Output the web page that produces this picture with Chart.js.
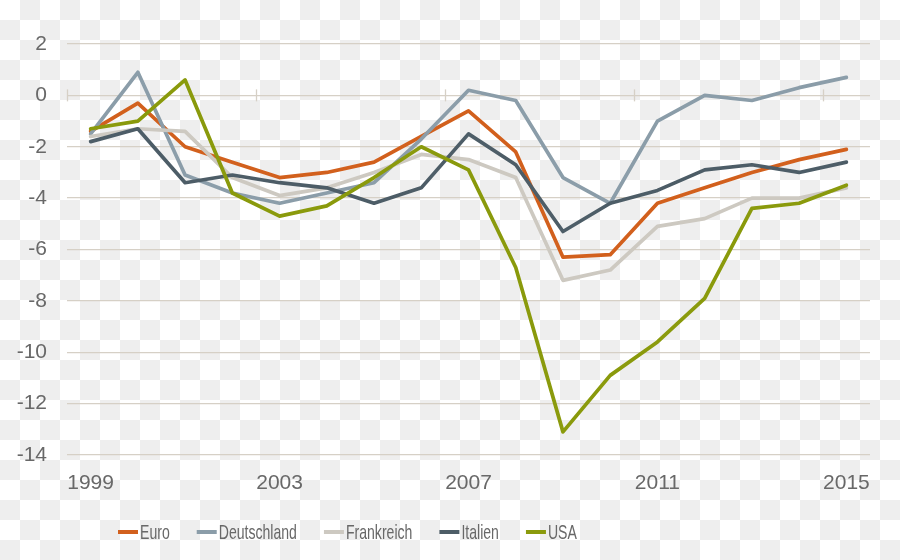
<!DOCTYPE html>
<html>
<head>
<meta charset="utf-8">
<script src="https://cdn.jsdelivr.net/npm/chart.js@4/dist/chart.umd.min.js"></script>
<style>
  html, body { margin: 0; padding: 0; }
  body {
    width: 900px; height: 560px; overflow: hidden;
    background: repeating-conic-gradient(#eeeeee 0 25%, #ffffff 0 50%) 0 0 / 40px 40px;
  }
  #wrap { position: absolute; left: 0; top: 0; width: 900px; height: 560px; }
</style>
</head>
<body>
<div id="wrap"><canvas id="c" width="900" height="560"></canvas></div>
<script>
const years = ['1999','2000','2001','2002','2003','2004','2005','2006','2007','2008','2009','2010','2011','2012','2013','2014','2015'];
const shownYears = ['1999','2003','2007','2011','2015'];
const yTicks = [2, 0, -2, -4, -6, -8, -10, -12, -14];

const euro        = [-1.4, -0.3, -2.0, -2.6, -3.2, -3.0, -2.6, -1.6, -0.6, -2.2, -6.3, -6.2, -4.2, -3.6, -3.0, -2.5, -2.1];
const deutschland = [-1.5,  0.9, -3.1, -3.8, -4.2, -3.8, -3.4, -1.7,  0.2, -0.2, -3.2, -4.2, -1.0,  0.0, -0.2,  0.3,  0.7];
const frankreich  = [-1.6, -1.3, -1.4, -3.2, -3.9, -3.6, -3.0, -2.3, -2.5, -3.2, -7.2, -6.8, -5.1, -4.8, -4.0, -4.0, -3.6];
const italien     = [-1.8, -1.3, -3.4, -3.1, -3.4, -3.6, -4.2, -3.6, -1.5, -2.7, -5.3, -4.2, -3.7, -2.9, -2.7, -3.0, -2.6];
const usa         = [-1.3, -1.0,  0.6, -3.8, -4.7, -4.3, -3.2, -2.0, -2.9, -6.7, -13.1, -10.9, -9.6, -7.9, -4.4, -4.2, -3.5];

const seriesNames = ['Euro', 'Deutschland', 'Frankreich', 'Italien', 'USA'];
const seriesData = [euro, deutschland, frankreich, italien, usa];
const seriesColors = ['#d2601d', '#8b9da9', '#cdc9c1', '#4d5d67', '#8a9a0c'];

const TEXT = '#686868';
const GRID = '#d6d0c6';
const FONT = "'Liberation Sans', Arial, sans-serif";

const datasets = seriesNames.map((name, i) => ({
  label: name,
  data: seriesData[i],
  borderColor: seriesColors[i],
  backgroundColor: seriesColors[i],
  borderWidth: 3.7,
  pointRadius: 0,
  pointHoverRadius: 0,
  tension: 0,
  fill: false,
  borderJoinStyle: 'round',
  borderCapStyle: 'round',
  order: seriesNames.length - i
}));

// Tick marks on the zero line at category boundaries every 4 years
const zeroLineTicks = {
  id: 'zeroLineTicks',
  beforeDatasetsDraw(chart) {
    const x = chart.scales.x, y = chart.scales.y;
    const ctx = chart.ctx;
    const y0 = y.getPixelForValue(0);
    const step = x.getPixelForValue(1) - x.getPixelForValue(0);
    ctx.save();
    ctx.strokeStyle = GRID;
    ctx.lineWidth = 1.3;
    years.forEach((yr, i) => {
      if (shownYears.includes(yr)) {
        const px = Math.round(x.getPixelForValue(i) - step / 2) + 0.5;
        ctx.beginPath();
        ctx.moveTo(px, y0 - 6);
        ctx.lineTo(px, y0 + 6);
        ctx.stroke();
      }
    });
    ctx.restore();
  }
};

// Legend drawn with condensed text like the reference
const condensedLegend = {
  id: 'condensedLegend',
  afterDraw(chart) {
    const ctx = chart.ctx;
    ctx.save();
    ctx.font = '21px ' + FONT;
    ctx.textBaseline = 'middle';
    const squeeze = 0.67;
    const yMid = 532;
    let x = 118;
    seriesNames.forEach((name, i) => {
      ctx.strokeStyle = seriesColors[i];
      ctx.lineWidth = 4;
      ctx.lineCap = 'butt';
      ctx.beginPath();
      ctx.moveTo(x, yMid);
      ctx.lineTo(x + 20, yMid);
      ctx.stroke();
      x += 22;
      const w = ctx.measureText(name).width * squeeze;
      ctx.save();
      ctx.translate(x, yMid + 1);
      ctx.scale(squeeze, 1);
      ctx.fillStyle = TEXT;
      ctx.fillText(name, 0, 0);
      ctx.restore();
      x += w + 27;
    });
    ctx.restore();
  }
};

new Chart(document.getElementById('c'), {
  type: 'line',
  data: { labels: years, datasets },
  plugins: [zeroLineTicks, condensedLegend],
  options: {
    responsive: false,
    animation: false,
    layout: { padding: { top: 44, right: 30, bottom: 0, left: 0 } },
    plugins: { legend: { display: false }, tooltip: { enabled: false } },
    scales: {
      x: {
        type: 'category',
        offset: true,
        grid: { display: false, drawTicks: false },
        border: { display: false },
        ticks: {
          autoSkip: false,
          maxRotation: 0,
          color: TEXT,
          font: { family: FONT, size: 21 },
          padding: 16,
          callback: function(v, i) { return shownYears.includes(years[i]) ? years[i] : ''; }
        },
        afterFit(s) { s.height = 105; }
      },
      y: {
        min: -14,
        max: 2,
        afterBuildTicks(s) { s.ticks = yTicks.map(v => ({ value: v })); },
        grid: { color: GRID, lineWidth: 1.3, drawTicks: false },
        border: { display: false },
        ticks: {
          color: TEXT,
          font: { family: FONT, size: 21 },
          padding: 20
        },
        afterFit(s) { s.width = 67; }
      }
    }
  }
});
</script>
</body>
</html>
